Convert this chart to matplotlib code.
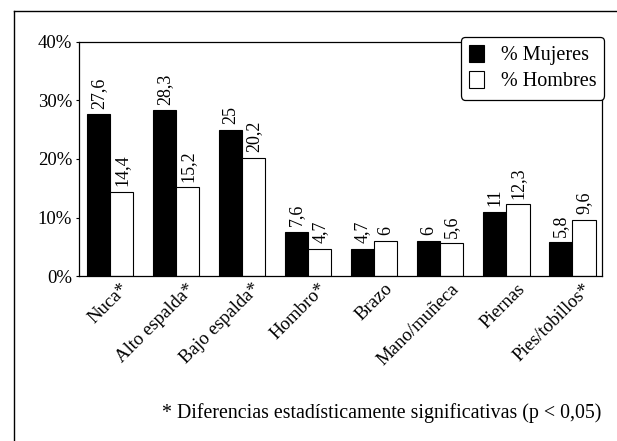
import matplotlib
matplotlib.use("Agg")
import matplotlib.pyplot as plt
import matplotlib.transforms as mtransforms
import numpy as np
from matplotlib.lines import Line2D

categories = ["Nuca*", "Alto espalda*", "Bajo espalda*", "Hombro*", "Brazo",
              "Mano/muñeca", "Piernas", "Pies/tobillos*"]
mujeres = [27.6, 28.3, 25, 7.6, 4.7, 6, 11, 5.8]
hombres = [14.4, 15.2, 20.2, 4.7, 6, 5.6, 12.3, 9.6]
yticks = [0, 10, 20, 30, 40]
ytick_labels = ["0%", "10%", "20%", "30%", "40%"]
series_names = ["% Mujeres", "% Hombres"]
footnote = "* Diferencias estadísticamente significativas (p < 0,05)"

plt.rcParams['font.family'] = ['Liberation Serif', 'DejaVu Serif']

fig = plt.figure(figsize=(6.17, 4.41), dpi=100)
ax = fig.add_axes([0.128, 0.374, 0.848, 0.531])

x = np.arange(len(categories))
w = 0.35
b1 = ax.bar(x - w / 2, mujeres, w, color="black", edgecolor="black", linewidth=0.8, label=series_names[0])
b2 = ax.bar(x + w / 2, hombres, w, color="white", edgecolor="black", linewidth=0.8, label=series_names[1])

def fmt(v):
    return ("%g" % v).replace(".", ",")

for bars, vals in ((b1, mujeres), (b2, hombres)):
    for r, v in zip(bars, vals):
        ax.annotate(fmt(v), (r.get_x() + r.get_width() / 2, v), xytext=(0, 4),
                    textcoords="offset points", rotation=90, ha="center", va="bottom",
                    fontsize=13)

ax.set_xlim(-0.47, 7.45)
ax.set_ylim(0, 40)
ax.set_yticks(yticks)
ax.set_yticklabels(ytick_labels, fontsize=13.5)
ax.set_xticks(x)
ax.set_xticklabels(categories, rotation=45, ha="right", va="top", rotation_mode="anchor", fontsize=13.5)
ax.tick_params(axis="x", length=0, pad=3)
ax.tick_params(axis="y", length=2, pad=3)
offset = mtransforms.ScaledTranslation(0.10, 0, fig.dpi_scale_trans)
for lbl in ax.get_xticklabels():
    lbl.set_transform(lbl.get_transform() + offset)
for s in ax.spines.values():
    s.set_linewidth(0.9)

leg = ax.legend(loc="upper right", bbox_to_anchor=(1.004, 1.022), fontsize=14.5, frameon=True,
                fancybox=True, edgecolor="black", framealpha=1, handlelength=0.75, handleheight=0.9,
                handletextpad=0.8, borderpad=0.4, labelspacing=0.3, borderaxespad=0.0)
leg.get_frame().set_linewidth(0.9)

fig.text(0.618, 0.063, footnote, ha="center", va="center", fontsize=14.3)

# outer frame lines
fig.add_artist(Line2D([14 / 617, 14 / 617], [1 - 11 / 441, 0], color="black", lw=1.0))
fig.add_artist(Line2D([14 / 617, 1], [1 - 11 / 441, 1 - 11 / 441], color="black", lw=1.0))

fig.savefig("out.png", dpi=100)
